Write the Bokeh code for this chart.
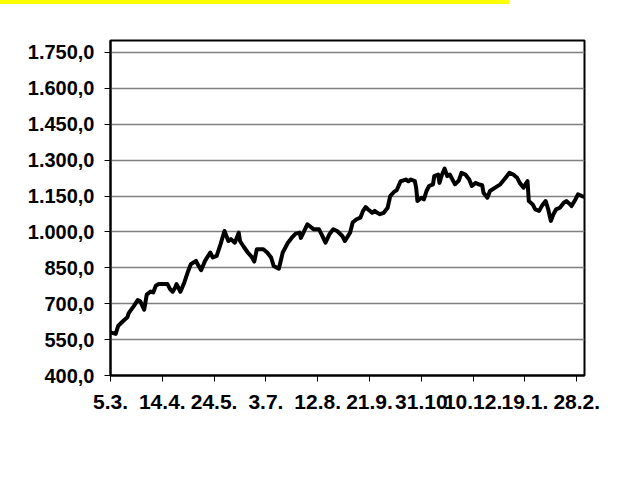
from bokeh.plotting import figure
from bokeh.models import Range1d, FixedTicker, Div, Column
from bokeh.embed import file_html
from bokeh.resources import INLINE

# days since 5 March
days = [0, 4, 6, 10, 13, 14, 15, 18, 21, 23, 26, 28, 31, 33, 35, 37, 44, 46, 48, 50,
        51, 54, 57, 60, 62, 66, 67, 70, 73, 77, 79, 82, 85, 88, 91, 93, 96, 99, 100, 103,
        106, 109, 111, 113, 118, 121, 124, 126, 130, 133, 137, 140, 143, 146, 147, 152, 157, 161, 163, 166,
        169, 172, 175, 179, 181, 185, 187, 190, 193, 195, 197, 199, 202, 204, 206, 208, 211, 214, 216, 219,
        221, 224, 226, 228, 230, 232, 235, 236, 237, 240, 242, 244, 246, 249, 250, 253, 254, 256, 258, 260,
        262, 266, 269, 271, 274, 277, 279, 282, 284, 287, 288, 291, 293, 297, 301, 304, 306, 308, 311, 314,
        316, 319, 321, 322, 323, 326, 328, 331, 333, 336, 338, 340, 342, 344, 347, 350, 352, 355, 356, 359,
        361, 364, 366]
values = [580, 574, 608, 629, 643, 660, 668, 690, 715, 710, 675, 738, 751, 747, 775, 782, 782, 761, 750, 768,
          782, 750, 789, 837, 865, 879, 868, 840, 879, 914, 893, 900, 949, 1004, 962, 970, 955, 997, 962, 937,
          914, 896, 876, 928, 928, 914, 893, 858, 846, 914, 955, 976, 993, 997, 975, 1032, 1011, 1011, 990, 955,
          990, 1011, 1004, 983, 962, 997, 1039, 1053, 1060, 1088, 1104, 1094, 1080, 1088, 1080, 1074, 1080, 1101, 1150, 1168,
          1174, 1212, 1215, 1219, 1212, 1219, 1212, 1185, 1129, 1143, 1136, 1171, 1192, 1199, 1233, 1240, 1205, 1240, 1265, 1233,
          1240, 1199, 1215, 1247, 1240, 1219, 1192, 1205, 1199, 1195, 1164, 1143, 1171, 1185, 1199, 1219, 1233, 1247, 1240, 1226,
          1205, 1185, 1205, 1212, 1129, 1115, 1094, 1088, 1108, 1129, 1094, 1046, 1074, 1094, 1101, 1122, 1129, 1115, 1108, 1136,
          1157, 1150, 1146]

x_tick_pos = [0, 40, 80, 120, 160, 200, 240, 280, 320, 360]
x_tick_labels = ["5.3.", "14.4.", "24.5.", "3.7.", "12.8.", "21.9.", "31.10", "10.12.", "19.1.", "28.2."]
y_tick_pos = [400, 550, 700, 850, 1000, 1150, 1300, 1450, 1600, 1750]
y_tick_labels = ["400,0", "550,0", "700,0", "850,0", "1.000,0", "1.150,0", "1.300,0", "1.450,0", "1.600,0", "1.750,0"]

p = figure(output_backend="svg", toolbar_location=None,
           frame_width=474, frame_height=335,
           min_border_left=118, min_border_top=31, min_border_right=40, min_border_bottom=70,
           x_range=Range1d(0, 366), y_range=Range1d(400, 1800))
p.background_fill_color = "white"
p.border_fill_color = "white"
p.outline_line_color = "black"
p.outline_line_width = 2

p.line(days, values, line_color="black", line_width=4, line_join="round")

for ax in (p.xaxis[0], p.yaxis[0]):
    ax.axis_line_color = "black"
    ax.axis_line_width = 2
    ax.major_tick_out = 6
    ax.major_tick_in = 0
    ax.major_tick_line_color = "black"
    ax.major_tick_line_width = 1
    ax.minor_tick_out = 0
    ax.minor_tick_in = 0
    ax.major_label_text_font = "Liberation Sans"
    ax.major_label_text_font_style = "bold"
    ax.major_label_text_color = "black"

p.xaxis.ticker = FixedTicker(ticks=x_tick_pos)
p.xaxis.major_label_overrides = {t: l for t, l in zip(x_tick_pos, x_tick_labels)}
p.xaxis.major_label_text_font_size = "21px"
p.xaxis.major_label_standoff = 13

p.yaxis.ticker = FixedTicker(ticks=y_tick_pos)
p.yaxis.major_label_overrides = {t: l for t, l in zip(y_tick_pos, y_tick_labels)}
p.yaxis.major_label_text_font_size = "20px"
p.yaxis.major_label_standoff = 10

p.xgrid.grid_line_color = None
p.ygrid.grid_line_color = "#808080"
p.ygrid.grid_line_width = 1.5

banner = Div(text="", width=512, height=7,
             styles={"background-color": "#ffff00"})
layout = Column(banner, p, spacing=0,
                styles={"margin-top": "-8px", "margin-left": "-8px"})

open("out.html", "w").write(file_html(layout, INLINE))
